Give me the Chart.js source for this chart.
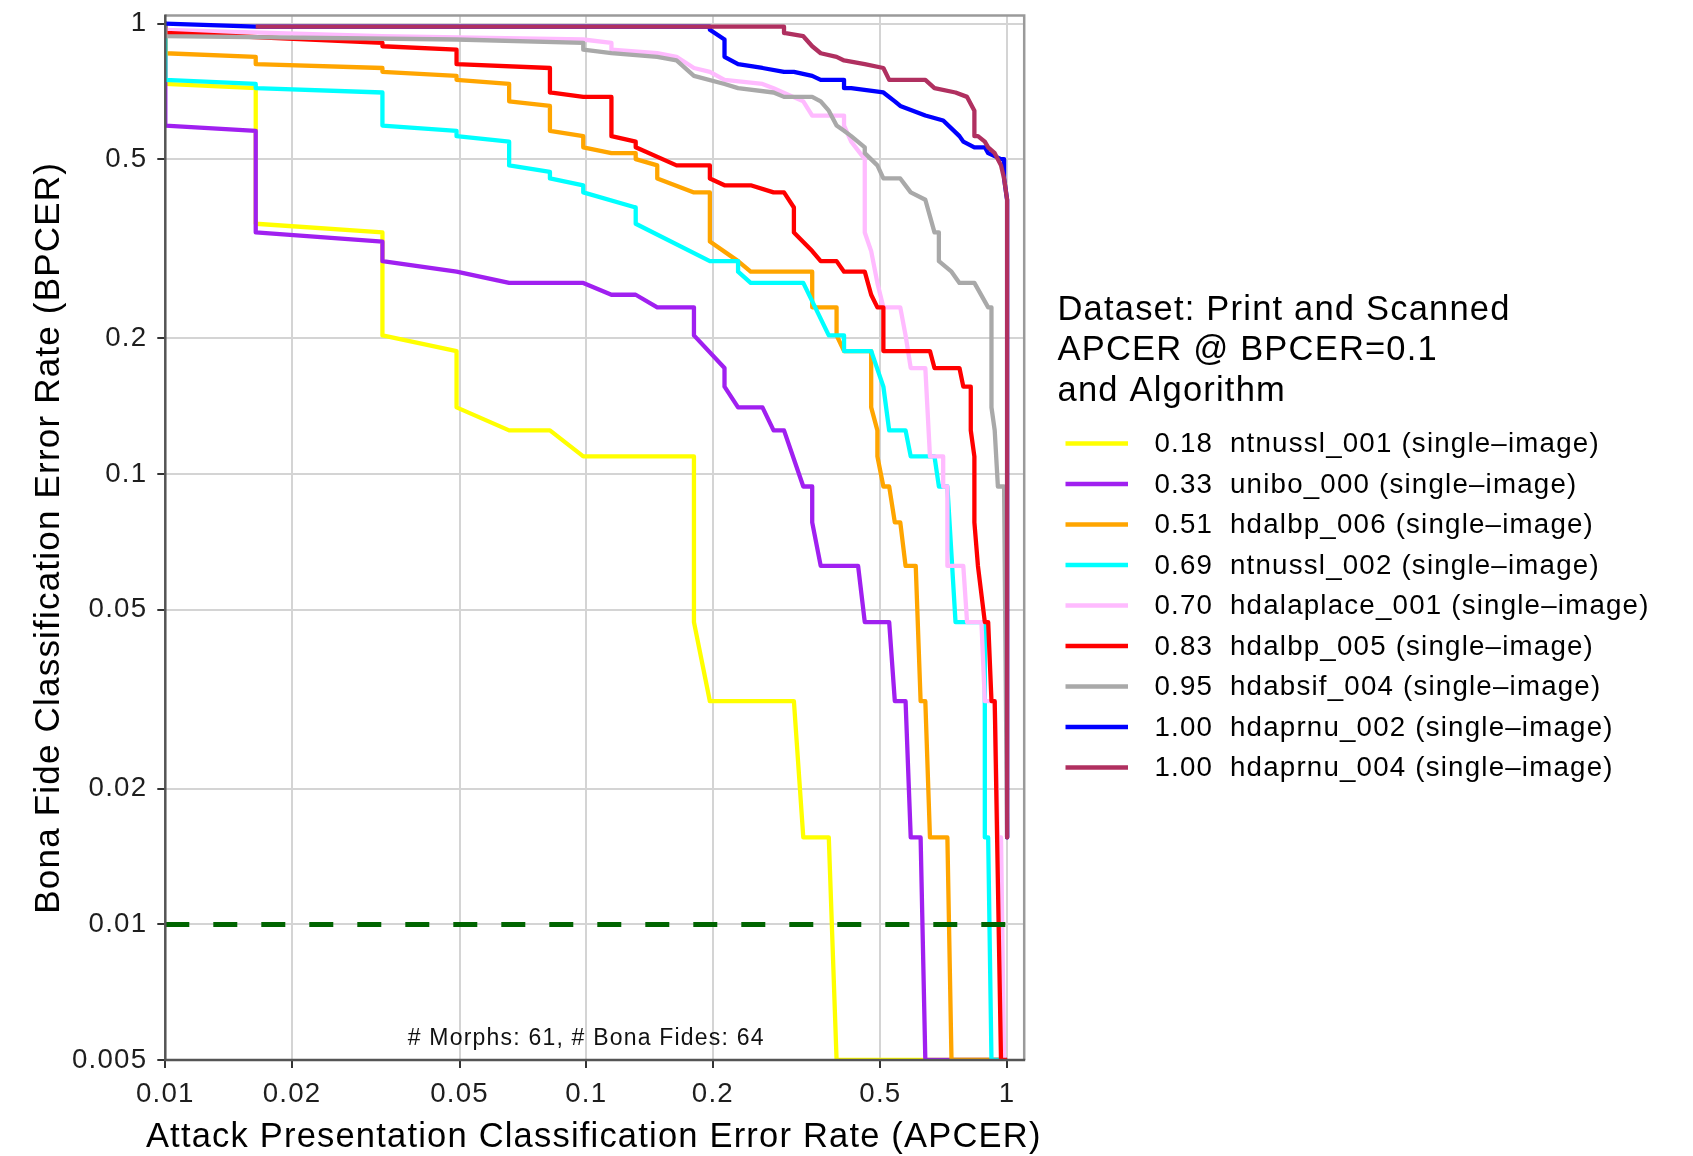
<!DOCTYPE html>
<html>
<head>
<meta charset="utf-8">
<title>DET curves – Print and Scanned</title>
<script src="https://cdn.jsdelivr.net/npm/chart.js@4.4.1/dist/chart.umd.min.js"></script>
<style>
  html, body { margin: 0; padding: 0; background: #ffffff; }
  #wrap { width: 1693px; height: 1156px; }
  canvas { display: block; }
</style>
</head>
<body>
<div id="wrap"><canvas id="det" width="1693" height="1156"></canvas></div>
<script>
// ---- axis ticks ----
const apcerTicks = [0.01, 0.02, 0.05, 0.1, 0.2, 0.5, 1];
const apcerTickLabels = ['0.01', '0.02', '0.05', '0.1', '0.2', '0.5', '1'];
const bpcerTicks = [0.005, 0.01, 0.02, 0.05, 0.1, 0.2, 0.5, 1];
const bpcerTickLabels = ['0.005', '0.01', '0.02', '0.05', '0.1', '0.2', '0.5', '1'];
const apcerRange = [0.01, 1.098];
const bpcerRange = [0.005, 1.042];
const apcerTitle = 'Attack Presentation Classification Error Rate (APCER)';
const bpcerTitle = 'Bona Fide Classification Error Rate (BPCER)';

// ---- legend ----
const legendTitle = ['Dataset: Print and Scanned', 'APCER @ BPCER=0.1', 'and Algorithm'];
const algorithms = [
  'ntnussl_001 (single\u2013image)',
  'unibo_000 (single\u2013image)',
  'hdalbp_006 (single\u2013image)',
  'ntnussl_002 (single\u2013image)',
  'hdalaplace_001 (single\u2013image)',
  'hdalbp_005 (single\u2013image)',
  'hdabsif_004 (single\u2013image)',
  'hdaprnu_002 (single\u2013image)',
  'hdaprnu_004 (single\u2013image)'
];
const apcerAtBpcer01 = ['0.18', '0.33', '0.51', '0.69', '0.70', '0.83', '0.95', '1.00', '1.00'];
const sampleNote = '# Morphs: 61, # Bona Fides: 64';

// ---- DET curves: APCER (x) and BPCER (y) ----
const ntnussl001Apcer = [0.01, 0.01, 0.0164, 0.0164, 0.0328, 0.0328, 0.0492, 0.0492, 0.0656, 0.0820, 0.0984, 0.1803, 0.1803, 0.1967, 0.3115, 0.3279, 0.3770, 0.3934, 1];
const ntnussl001Bpcer = [1, 0.7344, 0.7188, 0.3594, 0.3438, 0.2031, 0.1875, 0.1406, 0.125, 0.125, 0.1094, 0.1094, 0.0469, 0.0313, 0.0313, 0.0156, 0.0156, 0.005, 0.005];

const unibo000Apcer = [0.01, 0.01, 0.0164, 0.0164, 0.0328, 0.0328, 0.0492, 0.0656, 0.0984, 0.1148, 0.1311, 0.1475, 0.1803, 0.1803, 0.2131, 0.2131, 0.2295, 0.2623, 0.2787, 0.2951, 0.3279, 0.3443, 0.3443, 0.3607, 0.4426, 0.4590, 0.5246, 0.5410, 0.5738, 0.5902, 0.6230, 0.6393, 1];
const unibo000Bpcer = [1, 0.5938, 0.5781, 0.3438, 0.3281, 0.2969, 0.2813, 0.2656, 0.2656, 0.25, 0.25, 0.2344, 0.2344, 0.2031, 0.1719, 0.1563, 0.1406, 0.1406, 0.125, 0.125, 0.0938, 0.0938, 0.0781, 0.0625, 0.0625, 0.0469, 0.0469, 0.0313, 0.0313, 0.0156, 0.0156, 0.005, 0.005];

const hdalbp006Apcer = [0.01, 0.01, 0.0164, 0.0164, 0.0328, 0.0328, 0.0492, 0.0492, 0.0656, 0.0656, 0.0820, 0.0820, 0.0984, 0.0984, 0.1148, 0.1311, 0.1311, 0.1475, 0.1475, 0.1803, 0.1967, 0.1967, 0.2295, 0.2459, 0.3443, 0.3443, 0.3934, 0.3934, 0.4098, 0.4754, 0.4754, 0.4918, 0.4918, 0.5082, 0.5246, 0.5410, 0.5574, 0.5738, 0.6066, 0.6230, 0.6393, 0.6557, 0.7213, 0.7377, 1];
const hdalbp006Bpcer = [1, 0.8594, 0.8438, 0.8125, 0.7969, 0.7813, 0.7656, 0.75, 0.7344, 0.6719, 0.6563, 0.5781, 0.5625, 0.5313, 0.5156, 0.5156, 0.5, 0.4844, 0.4531, 0.4219, 0.4219, 0.3281, 0.2969, 0.2813, 0.2813, 0.2344, 0.2344, 0.2031, 0.1875, 0.1875, 0.1406, 0.125, 0.1094, 0.0938, 0.0938, 0.0781, 0.0781, 0.0625, 0.0625, 0.0313, 0.0313, 0.0156, 0.0156, 0.005, 0.005];

const ntnussl002Apcer = [0.01, 0.01, 0.0164, 0.0164, 0.0328, 0.0328, 0.0492, 0.0492, 0.0656, 0.0656, 0.0820, 0.0820, 0.0984, 0.0984, 0.1311, 0.1311, 0.1967, 0.2295, 0.2295, 0.2459, 0.3279, 0.3770, 0.4098, 0.4098, 0.4754, 0.5082, 0.5246, 0.5738, 0.5902, 0.6721, 0.6885, 0.7213, 0.7541, 0.8852, 0.8852, 0.9016, 0.9180, 1];
const ntnussl002Bpcer = [1, 0.75, 0.7344, 0.7188, 0.7031, 0.5938, 0.5781, 0.5625, 0.5469, 0.4844, 0.4688, 0.4531, 0.4375, 0.4219, 0.3906, 0.3594, 0.2969, 0.2969, 0.2813, 0.2656, 0.2656, 0.2031, 0.2031, 0.1875, 0.1875, 0.1563, 0.125, 0.125, 0.1094, 0.1094, 0.0938, 0.0938, 0.0469, 0.0469, 0.0156, 0.0156, 0.005, 0.005];

const hdalaplace001Apcer = [0.01, 0.01, 0.0328, 0.0984, 0.1148, 0.1148, 0.1475, 0.1639, 0.1803, 0.1967, 0.2131, 0.2623, 0.2787, 0.3279, 0.3443, 0.4098, 0.4098, 0.4262, 0.4590, 0.4590, 0.4754, 0.4918, 0.5082, 0.5574, 0.5738, 0.5902, 0.6393, 0.6557, 0.7049, 0.7049, 0.7213, 0.7213, 0.7869, 0.8033, 0.8689, 0.8852, 0.9344, 0.9508, 0.9672, 0.9836, 1];
const hdalaplace001Bpcer = [1, 0.9688, 0.9375, 0.9219, 0.9063, 0.875, 0.8594, 0.8438, 0.7969, 0.7813, 0.75, 0.7344, 0.7188, 0.6719, 0.625, 0.625, 0.5938, 0.5469, 0.5, 0.3438, 0.3125, 0.2656, 0.2344, 0.2344, 0.2031, 0.1719, 0.1719, 0.1094, 0.1094, 0.0938, 0.0938, 0.0625, 0.0625, 0.0469, 0.0469, 0.0313, 0.0313, 0.0156, 0.0156, 0.005, 0.005];

const hdalbp005Apcer = [0.01, 0.01, 0.0328, 0.0328, 0.0492, 0.0492, 0.0820, 0.0820, 0.0984, 0.1148, 0.1148, 0.1311, 0.1311, 0.1639, 0.1967, 0.1967, 0.2131, 0.2459, 0.2787, 0.2951, 0.3115, 0.3115, 0.3443, 0.3607, 0.3934, 0.4098, 0.4590, 0.4754, 0.4918, 0.5082, 0.5082, 0.5246, 0.6557, 0.6721, 0.7705, 0.7869, 0.8197, 0.8197, 0.8361, 0.8361, 0.8525, 0.8852, 0.9016, 0.9180, 0.9344, 0.9672, 1];
const hdalbp005Bpcer = [1, 0.9531, 0.9063, 0.8906, 0.875, 0.8125, 0.7969, 0.7031, 0.6875, 0.6875, 0.5625, 0.5469, 0.5313, 0.4844, 0.4844, 0.4531, 0.4375, 0.4375, 0.4219, 0.4219, 0.3906, 0.3438, 0.3125, 0.2969, 0.2969, 0.2813, 0.2813, 0.25, 0.2344, 0.2344, 0.1875, 0.1875, 0.1875, 0.1719, 0.1719, 0.1563, 0.1563, 0.125, 0.1094, 0.0781, 0.0625, 0.0469, 0.0469, 0.0313, 0.0313, 0.005, 0.005];

const hdabsif004Apcer = [0.01, 0.01, 0.0492, 0.0984, 0.0984, 0.1148, 0.1475, 0.1639, 0.1803, 0.2131, 0.2295, 0.2787, 0.2951, 0.3443, 0.3607, 0.3770, 0.3934, 0.4098, 0.4262, 0.4590, 0.4590, 0.4918, 0.5082, 0.5574, 0.5902, 0.6393, 0.6721, 0.6885, 0.6885, 0.7377, 0.7705, 0.8361, 0.9016, 0.9180, 0.9180, 0.9344, 0.9508, 0.9836, 1];
const hdabsif004Bpcer = [1, 0.9375, 0.9219, 0.9063, 0.875, 0.8594, 0.8438, 0.8281, 0.7656, 0.7344, 0.7188, 0.7031, 0.6875, 0.6875, 0.6719, 0.6406, 0.5938, 0.5781, 0.5625, 0.5313, 0.5156, 0.4844, 0.4531, 0.4531, 0.4219, 0.4063, 0.3438, 0.3438, 0.2969, 0.2813, 0.2656, 0.2656, 0.2344, 0.2344, 0.1406, 0.125, 0.0938, 0.0938, 0.0156];

const hdaprnu002Apcer = [0.01, 0.0164, 0.1967, 0.1967, 0.2131, 0.2131, 0.2295, 0.2623, 0.2951, 0.3115, 0.3443, 0.3607, 0.4098, 0.4098, 0.4262, 0.5082, 0.5410, 0.5574, 0.6393, 0.7049, 0.7705, 0.7869, 0.8361, 0.8852, 0.9016, 0.9672, 0.9836, 0.9836, 1, 1];
const hdaprnu002Bpcer = [1, 0.9844, 0.9844, 0.9688, 0.9219, 0.8438, 0.8125, 0.7969, 0.7813, 0.7813, 0.7656, 0.75, 0.75, 0.7188, 0.7188, 0.7031, 0.6719, 0.6563, 0.625, 0.6094, 0.5625, 0.5469, 0.5313, 0.5313, 0.5156, 0.5, 0.5, 0.4531, 0.4063, 0.0156];

const hdaprnu004Apcer = [0.0164, 0.2951, 0.2951, 0.3279, 0.3443, 0.3607, 0.3934, 0.4098, 0.4590, 0.5082, 0.5246, 0.6393, 0.6721, 0.7541, 0.8033, 0.8361, 0.8361, 0.8525, 0.8852, 0.9016, 0.9344, 0.9672, 0.9836, 1, 1];
const hdaprnu004Bpcer = [0.9844, 0.9844, 0.9531, 0.9375, 0.8906, 0.8594, 0.8438, 0.8281, 0.8125, 0.7969, 0.75, 0.75, 0.7188, 0.7031, 0.6875, 0.6406, 0.5625, 0.5625, 0.5469, 0.5313, 0.5156, 0.4844, 0.4531, 0.4063, 0.0156];

// operating point reference: BPCER = 0.01
const referenceApcer = [0.01, 1.1];
const referenceBpcer = [0.01, 0.01];

const curveApcer = [ntnussl001Apcer, unibo000Apcer, hdalbp006Apcer, ntnussl002Apcer, hdalaplace001Apcer, hdalbp005Apcer, hdabsif004Apcer, hdaprnu002Apcer, hdaprnu004Apcer];
const curveBpcer = [ntnussl001Bpcer, unibo000Bpcer, hdalbp006Bpcer, ntnussl002Bpcer, hdalaplace001Bpcer, hdalbp005Bpcer, hdabsif004Bpcer, hdaprnu002Bpcer, hdaprnu004Bpcer];

// ---- styling ----
const curveColors = ['#FFFF00', '#A020F0', '#FFA500', '#00FFFF', '#FFBBFF', '#FF0000', '#A9A9A9', '#0000FF', '#B03060'];
const FONT = "'Liberation Sans', Arial, Helvetica, sans-serif";
const TEXT_SPACING = '1.2px';
const TICK_COLOR = '#1e1e1e';

Chart.defaults.font.family = FONT;

function labelFor(values, labels, v) {
  let best = 0;
  for (let i = 1; i < values.length; i++) {
    if (Math.abs(Math.log(values[i] / v)) < Math.abs(Math.log(values[best] / v))) best = i;
  }
  return labels[best];
}

const datasets = curveApcer.map((xs, i) => ({
  label: algorithms[i],
  data: xs.map((x, k) => ({ x: x, y: curveBpcer[i][k] })),
  borderColor: curveColors[i],
  backgroundColor: curveColors[i],
  borderWidth: 4.3,
  borderJoinStyle: 'round',
  borderCapStyle: 'butt',
  pointRadius: 0,
  tension: 0,
  fill: false,
  clip: 0,
  order: curveApcer.length - i
}));

datasets.push({
  label: 'BPCER = 0.01',
  data: referenceApcer.map((x, k) => ({ x: x, y: referenceBpcer[k] })),
  borderColor: '#006400',
  borderWidth: 5,
  borderDash: [24, 24],
  borderCapStyle: 'butt',
  pointRadius: 0,
  tension: 0,
  fill: false,
  clip: 0,
  order: 0
});

// text tracking for all canvas text
const spacingPlugin = {
  id: 'textSpacing',
  beforeDraw(chart) { chart.ctx.letterSpacing = TEXT_SPACING; }
};

// panel frame drawn over the curves
const framePlugin = {
  id: 'panelFrame',
  afterDatasetsDraw(chart) {
    const { ctx, chartArea: a } = chart;
    ctx.save();
    ctx.lineWidth = 2.5;
    ctx.strokeStyle = '#9a9a9a';
    ctx.beginPath();
    ctx.moveTo(a.left, a.top);
    ctx.lineTo(a.right, a.top);
    ctx.lineTo(a.right, a.bottom);
    ctx.stroke();
    ctx.strokeStyle = '#555555';
    ctx.beginPath();
    ctx.moveTo(a.left, a.top - 1);
    ctx.lineTo(a.left, a.bottom);
    ctx.lineTo(a.right + 1, a.bottom);
    ctx.stroke();
    ctx.restore();
  }
};

// x-axis title (wider than the panel, so drawn without width limit),
// legend block and sample-size note
const annotationPlugin = {
  id: 'detLegend',
  afterDraw(chart) {
    const ctx = chart.ctx;
    const a = chart.chartArea;
    const xs = chart.scales.x;
    ctx.save();
    ctx.letterSpacing = TEXT_SPACING;

    // x-axis title centred under the panel
    ctx.fillStyle = '#000000';
    ctx.font = '34.5px ' + FONT;
    ctx.textAlign = 'center';
    ctx.textBaseline = 'middle';
    ctx.fillText(apcerTitle, (a.left + a.right) / 2 - 1, 1137);

    // legend title
    ctx.textAlign = 'left';
    ctx.textBaseline = 'alphabetic';
    const titleX = 1057.5;
    const titleBase = [319.5, 360, 400.5];
    legendTitle.forEach((t, i) => ctx.fillText(t, titleX, titleBase[i]));

    // legend rows
    const keyX0 = 1065.5, keyX1 = 1128, numX = 1154.5, nameX = 1230;
    const rowY0 = 443.5, rowStep = 40.5;
    ctx.font = '27.7px ' + FONT;
    ctx.textBaseline = 'middle';
    algorithms.forEach((name, i) => {
      const y = rowY0 + i * rowStep;
      ctx.strokeStyle = curveColors[i];
      ctx.lineWidth = 4.5;
      ctx.lineCap = 'butt';
      ctx.beginPath();
      ctx.moveTo(keyX0, y);
      ctx.lineTo(keyX1, y);
      ctx.stroke();
      ctx.fillStyle = '#000000';
      ctx.fillText(apcerAtBpcer01[i], numX, y + 1);
      ctx.fillText(name, nameX, y + 1);
    });

    // sample sizes inside the panel
    ctx.font = '23px ' + FONT;
    ctx.textAlign = 'center';
    ctx.textBaseline = 'alphabetic';
    ctx.fillStyle = '#111111';
    ctx.fillText(sampleNote, xs.getPixelForValue(0.1), a.bottom - 15);
    ctx.restore();
  }
};

new Chart(document.getElementById('det'), {
  type: 'line',
  data: { datasets: datasets },
  options: {
    responsive: false,
    animation: false,
    devicePixelRatio: 1,
    events: [],
    layout: { padding: { left: 0, top: 12, right: 668.8, bottom: 0 } },
    plugins: {
      legend: { display: false },
      tooltip: { enabled: false },
      title: { display: false }
    },
    scales: {
      x: {
        type: 'logarithmic',
        position: 'bottom',
        min: apcerRange[0],
        max: apcerRange[1],
        afterBuildTicks: (s) => { s.ticks = apcerTicks.map(v => ({ value: v })); },
        afterFit: (s) => { s.height = 96; },
        ticks: {
          autoSkip: false, maxRotation: 0, minRotation: 0,
          padding: 10, color: TICK_COLOR,
          font: { size: 27.7, lineHeight: 1.2 },
          callback: (v) => labelFor(apcerTicks, apcerTickLabels, v)
        },
        grid: { color: '#d4d4d4', lineWidth: 2, drawTicks: true, tickLength: 8, tickColor: '#333333', tickWidth: 2 },
        border: { display: false },
        title: { display: false, text: apcerTitle }
      },
      y: {
        type: 'logarithmic',
        position: 'left',
        min: bpcerRange[0],
        max: bpcerRange[1],
        afterBuildTicks: (s) => { s.ticks = bpcerTicks.map(v => ({ value: v })); },
        afterFit: (s) => { s.width = 165.3; },
        ticks: {
          autoSkip: false,
          padding: 10, color: TICK_COLOR,
          font: { size: 27.7, lineHeight: 0.4 },
          callback: (v) => labelFor(bpcerTicks, bpcerTickLabels, v)
        },
        grid: { color: '#d4d4d4', lineWidth: 2, drawTicks: true, tickLength: 8, tickColor: '#333333', tickWidth: 2 },
        border: { display: false },
        title: {
          display: true,
          text: bpcerTitle,
          color: '#000000',
          font: { size: 35, lineHeight: 1 },
          padding: { top: 31.5, bottom: 0 }
        }
      }
    }
  },
  plugins: [spacingPlugin, framePlugin, annotationPlugin]
});
</script>
</body>
</html>
